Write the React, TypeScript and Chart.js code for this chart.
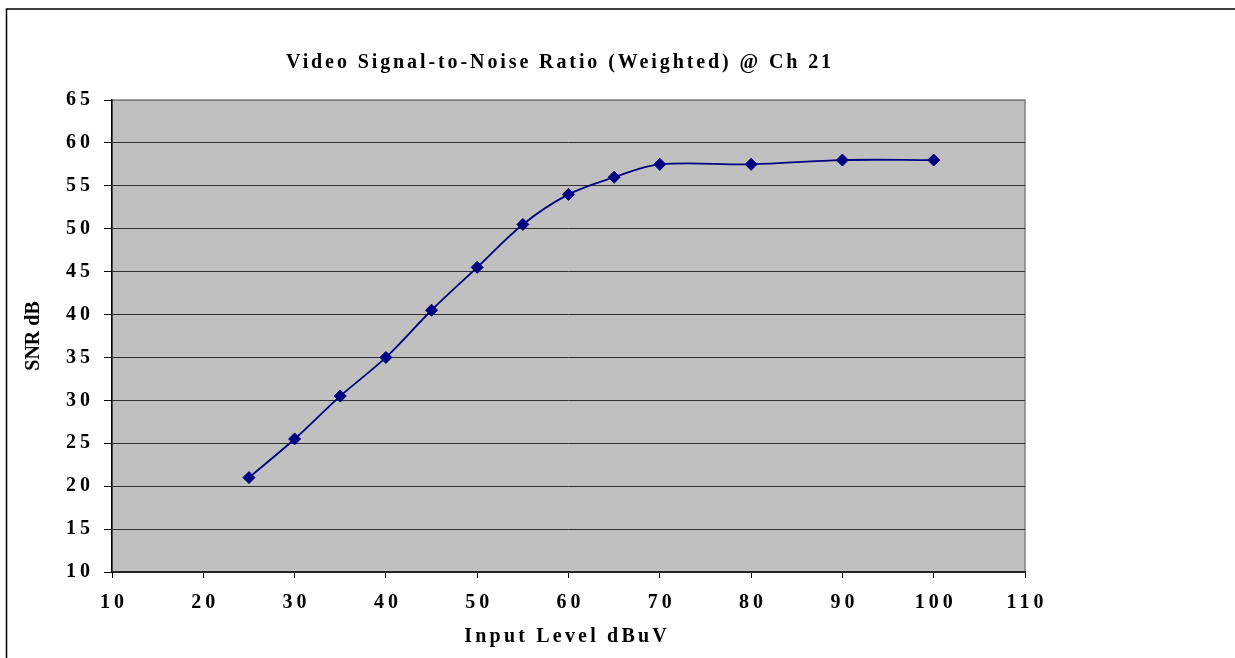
import React, { useEffect, useRef } from "react";
import { Chart, registerables } from "chart.js";

Chart.register(...registerables);

const inputLevels = [25, 30, 35, 40, 45, 50, 55, 60, 65, 70, 80, 90, 100];
const snrValues = [21, 25.5, 30.5, 35, 40.5, 45.5, 50.5, 54, 56, 57.5, 57.5, 58, 58];
const xRange = [10, 110];
const xStep = 10;
const yRange = [10, 65];
const yStep = 5;
const titleText = "Video Signal-to-Noise Ratio (Weighted) @ Ch 21";
const xTitle = "Input Level dBuV";
const yTitle = "SNR dB";

const FONT = "'Liberation Serif', 'Times New Roman', serif";

function wrapDraw(obj: any, name: string, spacing: number, dx: number) {
  const orig = obj[name];
  obj[name] = function (...args: any[]) {
    const ctx = this.ctx;
    ctx.save();
    (ctx as any).letterSpacing = spacing + "px";
    ctx.translate(dx, 0);
    orig.apply(this, args);
    ctx.restore();
  };
}

const decorPlugin = {
  id: "decor",
  beforeDraw(chart: any) {
    if (!chart.$patched) {
      chart.$patched = true;
      const xs = chart.scales.x;
      const ys = chart.scales.y;
      wrapDraw(xs, "drawLabels", 4, 2);
      wrapDraw(ys, "drawLabels", 4, 4);
      wrapDraw(xs, "drawTitle", 3.2, -1.4);
      wrapDraw(ys, "drawTitle", 0, 0);
      if (chart.titleBlock) wrapDraw(chart.titleBlock, "draw", 2.9, 47.5);
    }
    const { ctx, chartArea } = chart;
    const { left, top, right, bottom } = chartArea;
    ctx.save();
    ctx.fillStyle = "#C0C0C0";
    ctx.fillRect(left, top, right - left, bottom - top);
    ctx.strokeStyle = "#808080";
    ctx.lineWidth = 1.5;
    ctx.strokeRect(left, top, right - left, bottom - top);
    // outer frame
    ctx.strokeStyle = "#000";
    ctx.lineWidth = 1.5;
    ctx.beginPath();
    ctx.moveTo(6.5, 700);
    ctx.lineTo(6.5, 9);
    ctx.lineTo(1240, 9);
    ctx.stroke();
    ctx.restore();
  },
};

export default function App() {
  const ref = useRef<HTMLCanvasElement | null>(null);
  useEffect(() => {
    if (!ref.current) return;
    const chart = new Chart(ref.current, {
      type: "line",
      data: {
        datasets: [
          {
            data: inputLevels.map((x, i) => ({ x, y: snrValues[i] })),
            borderColor: "#000080",
            backgroundColor: "#000080",
            borderWidth: 1.8,
            pointStyle: "rectRot",
            pointRadius: 6,
            pointBorderWidth: 1,
            pointBackgroundColor: "#000080",
            pointBorderColor: "#000080",
            tension: 0.35,
            fill: false,
          },
        ],
      },
      options: {
        animation: false,
        responsive: false,
        devicePixelRatio: 1,
        layout: { padding: { left: 0, top: 0, right: 210, bottom: 0 } },
        plugins: {
          legend: { display: false },
          tooltip: { enabled: false },
          title: {
            display: true,
            text: titleText,
            color: "#000",
            font: { family: FONT, size: 20, weight: "bold", lineHeight: 1.2 },
            padding: { top: 51, bottom: 25 },
          },
        },
        scales: {
          x: {
            type: "linear",
            min: xRange[0],
            max: xRange[1],
            afterFit: (s: any) => {
              s.height = 86;
            },
            ticks: {
              stepSize: xStep,
              color: "#000",
              padding: 13,
              maxRotation: 0,
              autoSkip: false,
              font: { family: FONT, size: 20, weight: "bold", lineHeight: 1.2 },
            },
            grid: {
              drawOnChartArea: false,
              drawTicks: true,
              tickLength: 6,
              tickColor: "#000",
            },
            border: { color: "#222", width: 1.5 },
            title: {
              display: true,
              text: xTitle,
              color: "#000",
              font: { family: FONT, size: 20, weight: "bold", lineHeight: 1.2 },
              padding: { top: 0, bottom: 9 },
            },
          },
          y: {
            type: "linear",
            min: yRange[0],
            max: yRange[1],
            afterFit: (s: any) => {
              s.width = 112;
            },
            ticks: {
              stepSize: yStep,
              color: "#000",
              padding: 14,
              font: { family: FONT, size: 20, weight: "bold", lineHeight: 1.2 },
            },
            grid: {
              color: (c: any) => (c.tick && c.tick.value === yRange[1] ? "#808080" : "#303030"),
              lineWidth: 1,
              tickLength: 8,
              tickColor: "#000",
            },
            border: { color: "#000", width: 1.5 },
            title: {
              display: true,
              text: yTitle,
              color: "#000",
              font: { family: FONT, size: 20, weight: "bold", lineHeight: 1.2 },
              padding: { top: 22, bottom: 0 },
            },
          },
        },
      },
      plugins: [decorPlugin],
    } as any);
    return () => chart.destroy();
  }, []);
  return (
    <div style={{ position: "absolute", left: 0, top: 0, width: 1235, height: 658, background: "#fff" }}>
      <canvas ref={ref} width={1235} height={658} style={{ display: "block", width: 1235, height: 658 }} />
    </div>
  );
}
